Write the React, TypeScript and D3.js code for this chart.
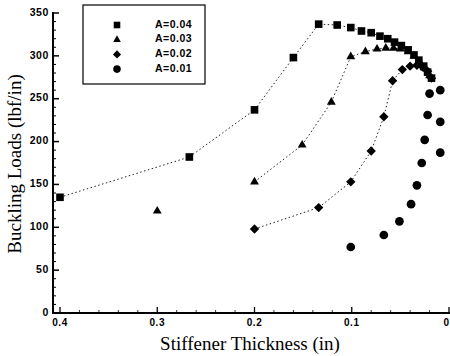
import * as d3 from "d3";

// thickness (in) and buckling load (lbf/in) for each stiffener area A
const seriesNames = ["A=0.04", "A=0.03", "A=0.02", "A=0.01"];

const thickA04 = [0.4, 0.267, 0.2, 0.16, 0.134, 0.115, 0.101, 0.09, 0.08, 0.071, 0.063, 0.056, 0.049, 0.042, 0.036, 0.031, 0.026, 0.022, 0.018];
const loadA04 = [135, 182, 237, 298, 337, 336, 333, 329, 327, 323, 320, 316, 312, 307, 301, 295, 288, 281, 274];

const thickA03 = [0.3, 0.2, 0.151, 0.121, 0.101, 0.086, 0.074, 0.065, 0.057, 0.05, 0.042, 0.036, 0.03, 0.025, 0.02];
const loadA03 = [119, 153, 196, 246, 299, 305, 308, 309, 309, 308, 305, 300, 293, 286, 277];

const thickA02 = [0.2, 0.134, 0.101, 0.08, 0.067, 0.058, 0.048, 0.04, 0.033, 0.027, 0.022, 0.018];
const loadA02 = [98, 123, 153, 189, 229, 271, 284, 288, 289, 287, 282, 274];

const thickA01 = [0.101, 0.067, 0.051, 0.039, 0.033, 0.028, 0.025, 0.022, 0.02, 0.009, 0.009, 0.009];
const loadA01 = [77, 91, 107, 127, 149, 175, 202, 231, 256, 260, 223, 187];

const yTicks = [0, 50, 100, 150, 200, 250, 300, 350];
const xTicks = [0.4, 0.3, 0.2, 0.1, 0];

const W = 450;
const H = 356;

const x = d3.scaleLinear().domain([0.4072, 0]).range([53, 449]);
const y = d3.scaleLinear().domain([0, 350]).range([313, 13]);

// which series get the dotted connecting line, and from which point
const lineFrom = [0, 1, 0, -1];
const symbols = [d3.symbolSquare, d3.symbolTriangle, d3.symbolDiamond2, d3.symbolCircle];
const sizes = [58, 34, 56, 60];

const series = [
  [thickA04, loadA04],
  [thickA03, loadA03],
  [thickA02, loadA02],
  [thickA01, loadA01],
].map(([t, l]) => t.map((v, i) => ({ t: v, load: l[i] })));

const App = () => {
  const line = d3
    .line<{ t: number; load: number }>()
    .x((d) => x(d.t))
    .y((d) => y(d.load));

  const minorY = d3.range(0, 351, 10).filter((v) => v % 50 !== 0);
  const minorX = d3.range(0.02, 0.4, 0.02).filter((v) => Math.abs(v * 10 - Math.round(v * 10)) > 0.01);

  const tickFont = "'Liberation Sans', Arial, sans-serif";
  const titleFont = "'Liberation Serif', 'Times New Roman', serif";

  return (
    <svg width={W} height={H} style={{ position: "absolute", left: 0, top: 0, background: "#fff" }}>
      {/* dotted lines */}
      {series.map((pts, si) =>
        lineFrom[si] < 0 ? null : (
          <path
            key={"l" + si}
            d={line(pts.slice(lineFrom[si])) || ""}
            fill="none"
            stroke="#222"
            strokeWidth={1}
            strokeDasharray="1.5,2.5"
          />
        )
      )}

      {/* markers */}
      {series.map((pts, si) =>
        pts.map((p, i) => (
          <path
            key={"m" + si + "-" + i}
            d={d3.symbol(symbols[si], sizes[si])() || ""}
            transform={`translate(${x(p.t)},${y(p.load)})`}
            fill="#000"
          />
        ))
      )}

      {/* y axis */}
      <line x1={x.range()[0]} x2={x.range()[0]} y1={y(350) - 1} y2={y(0)} stroke="#000" strokeWidth={2} />
      {yTicks.map((v) => (
        <g key={"yt" + v}>
          <line x1={x.range()[0]} x2={x.range()[0] + 6} y1={y(v)} y2={y(v)} stroke="#000" strokeWidth={1.5} />
          <text
            x={49}
            y={y(v)}
            textAnchor="end"
            dominantBaseline="middle"
            fontFamily={tickFont}
            fontWeight="bold"
            fontSize={10.5}
            letterSpacing={0.6}
          >
            {v}
          </text>
        </g>
      ))}
      {minorY.map((v) => (
        <line key={"ym" + v} x1={x.range()[0]} x2={x.range()[0] + 3} y1={y(v)} y2={y(v)} stroke="#000" strokeWidth={1} />
      ))}

      {/* x axis */}
      <line x1={x.range()[0] - 1} x2={W} y1={y(0)} y2={y(0)} stroke="#000" strokeWidth={2.2} />
      {xTicks.map((v) => (
        <g key={"xt" + v}>
          <line x1={x(v)} x2={x(v)} y1={y(0)} y2={y(0) - 6} stroke="#000" strokeWidth={1.3} />
          <text
            x={v === 0 ? W - 1 : x(v)}
            y={y(0) + 10}
            textAnchor={v === 0 ? "end" : "middle"}
            dominantBaseline="middle"
            fontFamily={tickFont}
            fontWeight="bold"
            fontSize={10}
            letterSpacing={v === 0 ? 0 : 0.6}
          >
            {v === 0 ? "0" : v.toFixed(1)}
          </text>
        </g>
      ))}
      {minorX.map((v) => (
        <line key={"xm" + v} x1={x(v)} x2={x(v)} y1={y(0)} y2={y(0) - 3} stroke="#000" strokeWidth={0.8} />
      ))}

      {/* axis titles */}
      <text
        transform="translate(21,164) rotate(-90)"
        textAnchor="middle"
        fontFamily={titleFont}
        fontSize={19}
      >
        Buckling Loads (lbf/in)
      </text>
      <text x={250} y={350} textAnchor="middle" fontFamily={titleFont} fontSize={19}>
        Stiffener Thickness (in)
      </text>

      {/* legend */}
      <rect x={83} y={5} width={122} height={79} fill="#fff" stroke="#000" strokeWidth={1.2} />
      {seriesNames.map((name, i) => {
        const ly = 25 + i * 14.7;
        return (
          <g key={"lg" + i}>
            <path
              d={d3.symbol(symbols[i], sizes[i] * 0.75)() || ""}
              transform={`translate(117,${ly})`}
              fill="#000"
            />
            <text
              x={155}
              y={ly}
              dominantBaseline="middle"
              fontFamily={tickFont}
              fontWeight="bold"
              fontSize={10.5}
              letterSpacing={0.5}
            >
              {name}
            </text>
          </g>
        );
      })}
    </svg>
  );
};

export default App;
